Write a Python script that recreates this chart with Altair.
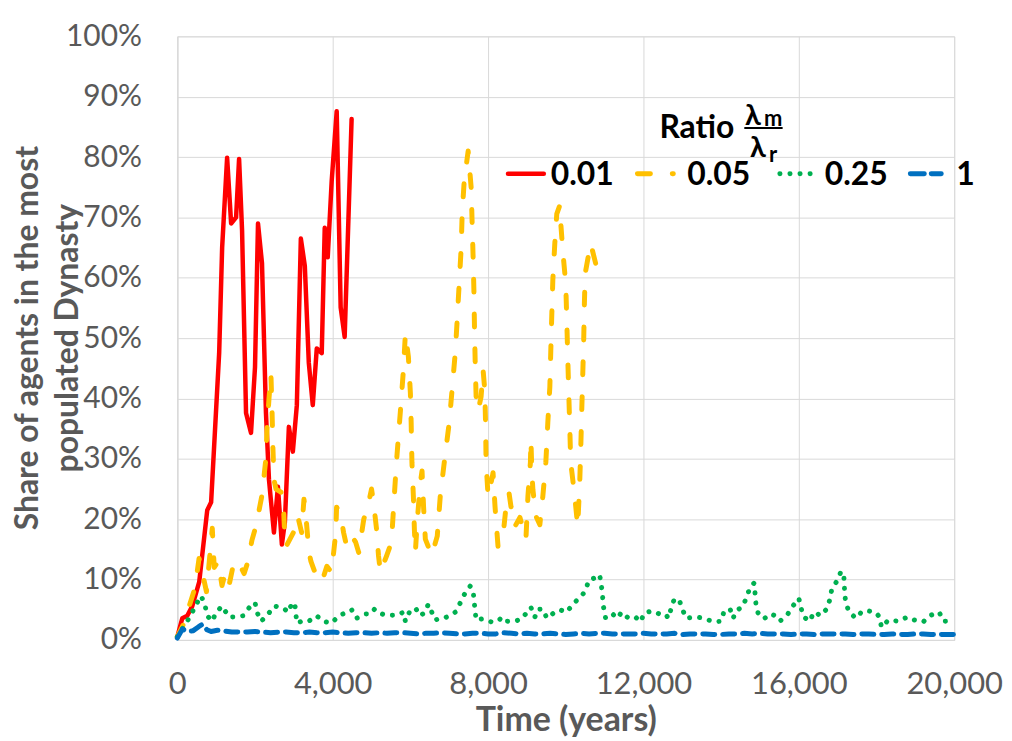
import altair as alt
import pandas as pd

# ---- data ----
series_names = ["0.01", "0.05", "0.25", "1"]
series_colors = ["#FF0000", "#FFC000", "#00B050", "#0070C0"]
y_title_lines = ["Share of agents in the most", "populated Dynasty"]

red_years = [0, 128, 256, 385, 564, 770, 870, 1077, 1154, 1282, 1385, 1513, 1590, 1667, 1769, 1897,
             2000, 2077, 2180, 2282, 2359, 2487, 2590, 2692, 2769, 2872, 2974, 3077, 3180, 3282,
             3385, 3487, 3590, 3718, 3795, 3872, 3974, 4103, 4205, 4308, 4487]
red_vals = [0.5, 3.6, 4.0, 5.6, 9.6, 21.5, 22.8, 47.5, 65, 79.9, 69, 70, 79.7, 67.8, 37.6, 34.3,
            45.2, 69, 62.4, 37.6, 26.6, 17.8, 25.4, 15.8, 19.5, 35.3, 31.2, 38.9, 66.5, 62,
            45.9, 38.9, 48.3, 47.5, 68.3, 63.4, 76, 87.6, 55.1, 50.2, 86.3]

yel_years = [0, 150, 300, 450, 560, 650, 750, 830, 900, 950, 1050, 1150, 1230, 1330, 1460, 1560,
             1720, 1820, 1920, 2030, 2180, 2280, 2310, 2360, 2410, 2440, 2460, 2490, 2540, 2670,
             2740, 2770, 2800, 3030, 3100, 3200, 3260, 3310, 3390, 3440, 3590, 3720, 3850, 3970,
             4080, 4100, 4200, 4280, 4360, 4490, 4590, 4670, 4800, 4900, 5000, 5050, 5130, 5180,
             5230, 5385, 5513, 5564, 5641, 5744, 5820, 5872, 5949, 6000, 6020, 6040, 6077, 6103,
             6128, 6180, 6256, 6300, 6340, 6385, 6550, 6692, 6769, 6872, 7000, 7077, 7154, 7205,
             7256, 7308, 7333, 7385, 7487, 7564, 7590, 7615, 7635, 7650, 7667, 7692, 7744, 7820,
             7872, 7915, 7935, 7949, 8000, 8077, 8128, 8179, 8256, 8308, 8385, 8462, 8538, 8590,
             8692, 8820, 8974, 9026, 9090, 9103, 9128, 9154, 9231, 9333, 9410, 9487, 9538, 9590,
             9615, 9641, 9667, 9718, 9769, 9846, 9872, 9923, 10000, 10026, 10051, 10077, 10103,
             10128, 10231, 10308, 10359, 10385, 10410, 10436, 10462, 10480, 10500, 10641, 10769]
yel_vals = [0.5, 2.5, 5.5, 8.5, 13.5, 11, 8, 13.5, 18.5, 12, 13, 9, 11, 9, 13, 13,
            11, 13, 16.5, 19, 24, 30, 35, 40, 44, 37.5, 32, 26.5, 25, 24.5,
            21, 16.7, 15.5, 18.3, 20.5, 17.8, 23.3, 20.5, 14.5, 13, 10.4, 9.6, 12.2, 11.2,
            17.8, 22, 21, 17.8, 15.5, 17.2, 16.2, 14.5, 20, 22, 25, 22.8, 18.3, 13.9,
            11.2, 13.9, 16.2, 21.6, 29.4, 38, 44.7, 50.8, 46.9, 40.9, 36, 29.4, 23.8, 18.3,
            14.5, 20, 26, 28, 22, 16.7, 14, 17.2, 23.8, 29.4, 36, 41.7, 47.5, 53,
            59, 65, 70.6, 76, 81, 75, 69, 63.4, 58, 51.8, 46.4, 40.3, 38, 40.3,
            44.7, 41.4, 36, 29.4, 23.8, 26, 27.7, 22.1, 15.5, 16.2, 17.2, 22.1, 24.4, 22.1,
            18.8, 20.3, 16.7, 23.8, 29.4, 33.2, 27.7, 24.9, 20.5, 19.1, 23.8, 29.4, 36, 41.9,
            48, 54, 59.6, 65.7, 70.6, 72, 69, 64.5, 59, 53, 46.9, 40.9, 35.3,
            29.4, 23.8, 18.8, 26, 31.5, 37.6, 43.6, 49.7, 55.8, 60.7, 65.7, 62.4]

grn_years = [0, 256, 385, 513, 615, 718, 770, 897, 1000, 1154, 1231, 1333, 1513, 1692, 1846, 2000,
             2051, 2154, 2308, 2487, 2692, 2872, 2949, 3026, 3077, 3205, 3359, 3590, 3744, 3974,
             4154, 4333, 4487, 4615, 4846, 4974, 5077, 5180, 5359, 5513, 5667, 5820, 5872, 5974,
             6128, 6256, 6359, 6462, 6538, 6641, 6769, 6872, 7026, 7154, 7282, 7410, 7538, 7615,
             7641, 7667, 7692, 7846, 8077, 8256, 8359, 8487, 8692, 8872, 9026, 9103, 9205, 9282,
             9410, 9513, 9718, 9846, 10026, 10205, 10385, 10513, 10590, 10718, 10872, 10923, 10949,
             10974, 11026, 11205, 11333, 11436, 11615, 11795, 11923, 12026, 12231, 12410, 12564,
             12641, 12718, 12795, 12923, 13000, 13103, 13333, 13564, 13795, 14000, 14077, 14231,
             14308, 14385, 14564, 14667, 14744, 14846, 14872, 14897, 14949, 15103, 15256, 15359,
             15513, 15718, 15846, 16000, 16051, 16128, 16282, 16385, 16462, 16538, 16718, 16795,
             16846, 16974, 17077, 17154, 17180, 17205, 17282, 17462, 17641, 17795, 17974, 18077,
             18128, 18308, 18564, 18795, 18974, 19205, 19359, 19615, 19718, 19897, 20000]
grn_vals = [0.5, 3.1, 4.6, 6.2, 7.3, 5.6, 4.0, 3.1, 4.6, 5.6, 4.8, 3.8, 3.8, 4.0, 5.3, 6.2,
            4.6, 3.1, 4.0, 5.6, 5.4, 4.6, 6.2, 5.9, 2.8, 3.1, 3.0, 4.0, 3.1, 2.8,
            4.0, 4.5, 5.0, 3.6, 4.3, 4.3, 5.1, 4.5, 4.1, 4.1, 4.1, 4.6, 3.1, 4.6,
            5.3, 4.0, 4.5, 5.9, 4.8, 3.3, 3.6, 3.6, 4.1, 4.6, 6.1, 7.8, 8.9, 8.2,
            6.4, 4.8, 3.3, 3.5, 3.0, 3.1, 3.8, 3.1, 3.1, 3.5, 4.8, 5.4, 3.8, 5.1,
            5.1, 3.6, 4.6, 5.0, 4.6, 6.1, 7.1, 8.2, 9.9, 10.2, 10.8, 8.7, 7.1,
            5.4, 3.6, 4.3, 3.6, 4.6, 3.6, 3.8, 3.0, 4.5, 4.8, 4.3, 4.3,
            3.6, 5.3, 6.8, 6.6, 5.1, 3.6, 3.8, 3.6, 3.0, 3.1, 4.8, 5.1,
            3.6, 4.8, 5.6, 7.3, 8.7, 9.4, 7.8, 5.9, 4.5, 3.5, 4.3, 4.1,
            3.1, 4.3, 5.6, 6.9, 5.4, 3.8, 3.1, 4.6, 4.5, 4.0, 5.1, 6.6,
            8.3, 9.7, 11.2, 11.2, 7.9, 6.3, 4.8, 3.6, 4.8, 4.8, 4.6, 3.8,
            2.1, 3.3, 3.1, 3.8, 3.3, 3.0, 4.0, 4.6, 3.1, 3.1, 3.0]

blu_years = [0, 130, 250, 400, 550, 650, 760, 870, 1030, 1200, 1400, 1600, 1800, 2000, 2200, 2400,
             2600, 2800, 3000, 3200, 3400, 3600, 3800, 4000, 4200, 4400, 4600, 4800, 5000, 5200,
             5400, 5600, 5800, 6000, 6200, 6400, 6600, 6800, 7000, 7200, 7400, 7600, 7800, 8000,
             8200, 8400, 8600, 8800, 9000, 9200, 9400, 9600, 9800, 10000, 10200, 10400, 10600,
             10800, 11000, 11200, 11400, 11600, 11800, 12000, 12200, 12400, 12600, 12800, 13000,
             13200, 13400, 13600, 13800, 14000, 14200, 14400, 14600, 14800, 15000, 15200, 15400,
             15600, 15800, 16000, 16200, 16400, 16600, 16800, 17000, 17200, 17400, 17600, 17800,
             18000, 18200, 18400, 18600, 18800, 19000, 19200, 19400, 19600, 19800, 20000]
blu_vals = [0.3, 1.8, 1.4, 1.5, 2.2, 2.6, 1.7, 1.4, 1.6, 1.5, 1.3, 1.3, 1.3, 1.4, 1.3, 1.2,
            1.3, 1.3, 1.2, 1.2, 1.3, 1.2, 1.2, 1.3, 1.2, 1.1, 1.2, 1.2, 1.1, 1.2,
            1.1, 1.2, 1.2, 1.1, 1.0, 1.1, 1.1, 1.2, 1.1, 1.0, 1.0, 1.1, 1.1, 1.0,
            1.0, 1.2, 1.1, 1.0, 1.1, 1.0, 1.0, 1.1, 1.0, 0.9, 1.0, 1.1, 1.0,
            1.1, 1.1, 1.0, 1.0, 1.0, 1.0, 1.1, 1.0, 1.0, 1.0, 1.1, 0.9,
            1.0, 1.0, 1.0, 0.9, 0.9, 1.0, 1.0, 1.1, 1.0, 1.1, 1.0, 1.0,
            1.0, 0.9, 1.0, 1.0, 0.9, 1.0, 1.0, 1.0, 1.0, 0.9, 1.0, 1.0,
            0.9, 0.9, 1.0, 0.9, 0.9, 1.0, 1.0, 0.9, 0.9, 0.9, 0.9]

x_ticks = [0, 4000, 8000, 12000, 16000, 20000]
y_ticks = [0, 10, 20, 30, 40, 50, 60, 70, 80, 90, 100]

FONT = "Lato"
GRAY = "#595959"
W, H = 780, 606

xs = alt.Scale(domain=[0, 20000], nice=False)
ys = alt.Scale(domain=[0, 100], nice=False)

x_axis = alt.Axis(values=x_ticks, format=",d", title="Time (years)", grid=True,
                  gridColor="#D9D9D9", domainColor="#D9D9D9", ticks=False,
                  labelFont=FONT, labelFontSize=31, labelColor=GRAY, labelPadding=30,
                  titleFont=FONT, titleFontSize=34, titleFontWeight="bold", titleColor=GRAY,
                  titlePadding=4, labelFlush=False)
y_axis = alt.Axis(values=y_ticks, labelExpr="datum.value + '%'", title=None, grid=True,
                  gridColor="#D9D9D9", domainColor="#D9D9D9", ticks=False,
                  labelFont=FONT, labelFontSize=30, labelColor=GRAY, labelPadding=36,
                  labelFlush=False)


def series_df(years, vals):
    return pd.DataFrame({"t": years, "v": vals})


def line_layer(df, color, width, dash=None):
    kw = dict(color=color, strokeWidth=width, strokeCap="round", strokeJoin="round")
    if dash is not None:
        kw["strokeDash"] = dash
    return alt.Chart(df).mark_line(**kw).encode(
        x=alt.X("t:Q", scale=xs, axis=x_axis),
        y=alt.Y("v:Q", scale=ys, axis=y_axis),
    )


red = line_layer(series_df(red_years, red_vals), series_colors[0], 4.5)
yel = line_layer(series_df(yel_years, yel_vals), series_colors[1], 5, [13, 22])
grn = line_layer(series_df(grn_years, grn_vals), series_colors[2], 5, [0.1, 10])
blu = line_layer(series_df(blu_years, blu_vals), series_colors[3], 5, [12, 8])

# ---- annotations: y title lines and manual legend ----
def leg_rule(x1, x2, y, color, width, dash=None):
    kw = dict(color=color, strokeWidth=width, strokeCap="round")
    if dash is not None:
        kw["strokeDash"] = dash
    return alt.Chart(pd.DataFrame({"a": [0]})).mark_rule(**kw).encode(
        x=alt.value(x1), x2=alt.value(x2), y=alt.value(y))


def leg_text(txt, x, y, size, align="left", weight="bold", color="black",
             baseline="alphabetic", angle=0):
    return alt.Chart(pd.DataFrame({"a": [0]})).mark_text(
        text=txt, font=FONT, fontSize=size, fontWeight=weight, color=color,
        align=align, baseline=baseline, angle=angle).encode(x=alt.value(x), y=alt.value(y))


ytitle = [
    leg_text(y_title_lines[0], -150, 303, 32, align="center", color=GRAY,
             baseline="middle", angle=270),
    leg_text(y_title_lines[1], -110, 303, 32, align="center", color=GRAY,
             baseline="middle", angle=270),
]

LY = 138
legend = [
    leg_rule(332, 368, LY, series_colors[0], 4.5),
    leg_text(series_names[0], 375, LY + 11, 32),
    leg_rule(462, 498, LY, series_colors[1], 5, [13, 22]),
    leg_text(series_names[1], 512, LY + 11, 32),
    leg_rule(605, 636, LY, series_colors[2], 5, [0.1, 10]),
    leg_text(series_names[2], 650, LY + 11, 32),
    leg_rule(736, 767, LY, series_colors[3], 5, [14, 7]),
    leg_text(series_names[3], 782, LY + 11, 32),
    leg_text("Ratio", 484, 102, 32),
    leg_text("λ", 570, 89, 29),
    leg_text("m", 589, 90, 22),
    leg_rule(570, 607, 92, "black", 2),
    leg_text("λ", 575, 121, 29),
    leg_text("r", 594, 126, 22),
]

chart = alt.layer(red, yel, grn, blu, *ytitle, *legend).properties(
    width=W, height=H,
    autosize=alt.AutoSizeParams(type="none"),
    padding={"left": 170, "top": 27, "right": 50, "bottom": 98},
).configure_view(stroke=None).configure(background="white")

chart.save("out.html", embed_options={"renderer": "svg", "actions": False})
